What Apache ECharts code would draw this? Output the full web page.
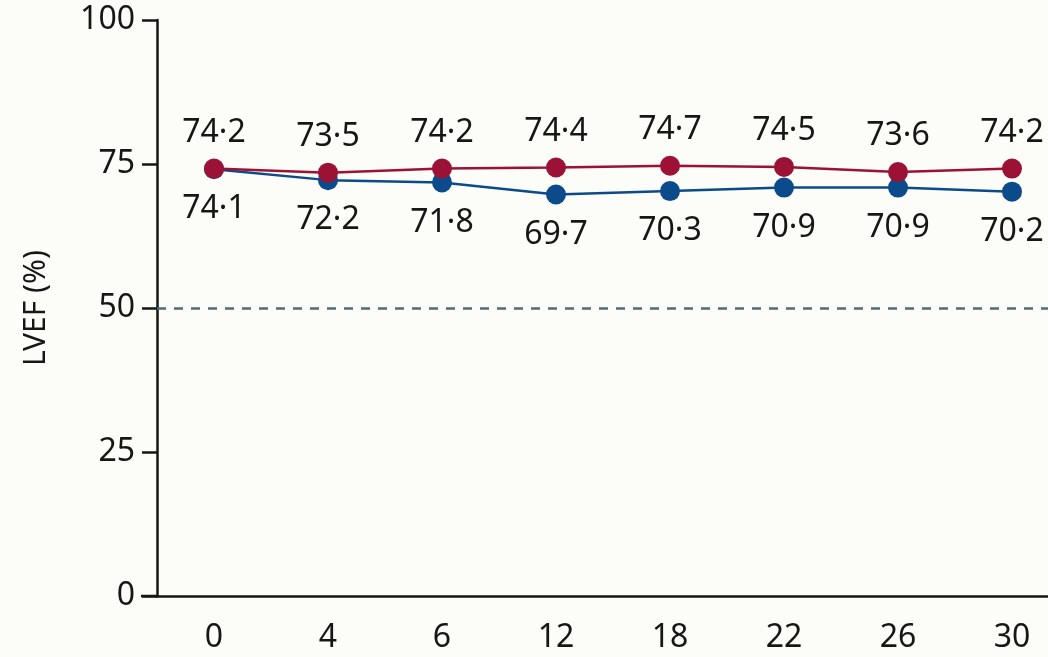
<!DOCTYPE html>
<html>
<head>
<meta charset="utf-8">
<script src="https://cdn.jsdelivr.net/npm/echarts@6/dist/echarts.min.js"></script>
<style>
  html, body { margin: 0; padding: 0; background: #fcfcf8; }
  #chart { width: 1048px; height: 657px; }
</style>
</head>
<body>
<div id="chart"></div>
<script>
// Visit months along the x axis
const months = ['0', '4', '6', '12', '18', '22', '26', '30'];
// Mean LVEF (%) per group at each visit
const redValues = [74.2, 73.5, 74.2, 74.4, 74.7, 74.5, 73.6, 74.2];
const blueValues = [74.1, 72.2, 71.8, 69.7, 70.3, 70.9, 70.9, 70.2];
// Y axis scale
const yTicks = [0, 25, 50, 75, 100];
const threshold = 50;

const FONT = '"Noto Sans", sans-serif';
const INK = '#161616';
const RED = '#9c1237';
const BLUE = '#0b4b8c';

// Decimal point printed as a middle dot
const fmt = v => v.toFixed(1).replace('.', '\u00B7');

const chart = echarts.init(document.getElementById('chart'), null, { renderer: 'canvas' });

const labelStyle = {
  show: true,
  fontFamily: FONT,
  fontSize: 32,
  color: INK,
  formatter: p => fmt(p.value)
};

chart.setOption({
  backgroundColor: '#fcfcf8',
  animation: false,
  grid: {
    left: 157, top: 20, width: 912, bottom: 61,
    containLabel: false,
    outerBoundsMode: 'none'
  },
  xAxis: {
    type: 'category',
    data: months,
    boundaryGap: true,
    axisLine: { lineStyle: { color: INK, width: 2.5 } },
    axisTick: { alignWithLabel: true, length: 17, lineStyle: { color: INK, width: 2.5 } },
    axisLabel: { fontFamily: FONT, fontSize: 32, color: INK, margin: 26 },
    splitLine: { show: false }
  },
  yAxis: {
    type: 'value',
    min: yTicks[0],
    max: yTicks[yTicks.length - 1],
    interval: 25,
    name: 'LVEF (%)',
    nameLocation: 'middle',
    nameGap: 106,
    nameTextStyle: { fontFamily: FONT, fontSize: 30, color: INK },
    axisLine: { show: true, lineStyle: { color: INK, width: 2.5 } },
    axisTick: { show: true, length: 15, lineStyle: { color: INK, width: 2.5 } },
    axisLabel: { fontFamily: FONT, fontSize: 32, color: INK, margin: 22 },
    splitLine: { show: false }
  },
  graphic: [{
    // short stub of the x axis line left of the y axis
    type: 'line',
    shape: { x1: 141, y1: 596, x2: 158, y2: 596 },
    style: { stroke: INK, lineWidth: 2.5 },
    z: 10
  }],
  series: [
    {
      name: 'blue',
      type: 'line',
      data: blueValues,
      symbol: 'circle',
      symbolSize: 20,
      lineStyle: { color: BLUE, width: 2.5 },
      itemStyle: { color: BLUE },
      label: Object.assign({ position: 'bottom', distance: 14 }, labelStyle),
      z: 2,
      markLine: {
        silent: true,
        symbol: 'none',
        label: { show: false },
        lineStyle: { color: '#556a75', width: 2.5, type: [9, 8] },
        data: [{ yAxis: threshold }]
      }
    },
    {
      name: 'red',
      type: 'line',
      data: redValues,
      symbol: 'circle',
      symbolSize: 20,
      lineStyle: { color: RED, width: 2.5 },
      itemStyle: { color: RED },
      label: Object.assign({ position: 'top', distance: 10 }, labelStyle),
      z: 3
    }
  ]
});
</script>
</body>
</html>
